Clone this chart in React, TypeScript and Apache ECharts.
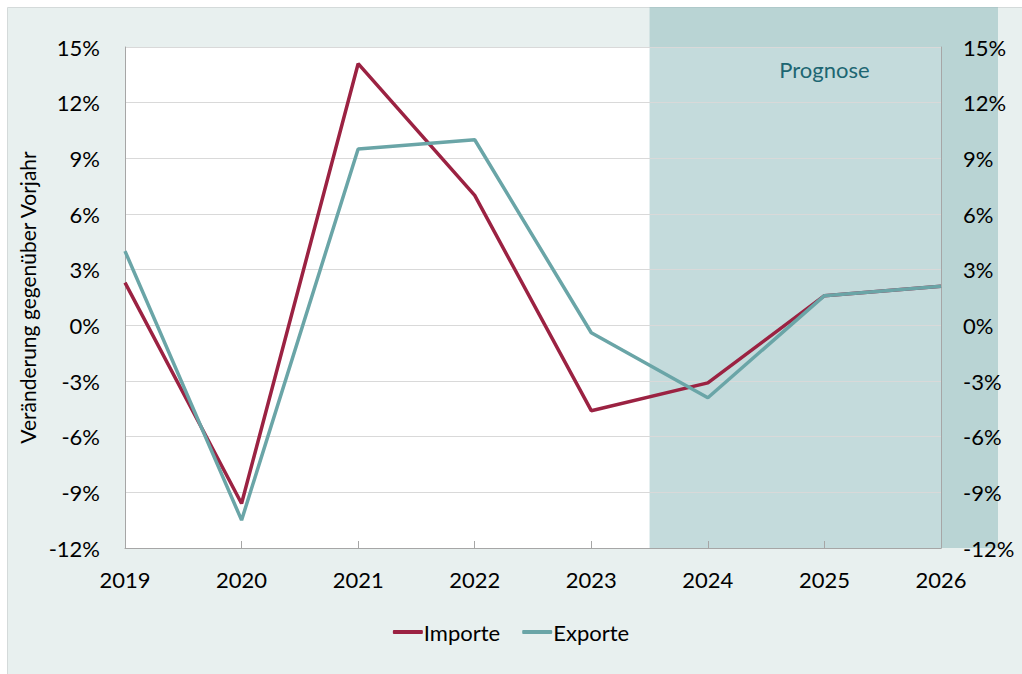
import React, { useEffect, useRef } from "react";
import * as echarts from "echarts";

const years = ["2019", "2020", "2021", "2022", "2023", "2024", "2025", "2026"];
const importe = [2.3, -9.6, 14.1, 7.0, -4.6, -3.1, 1.6, 2.1];
const exporte = [4.0, -10.5, 9.5, 10.0, -0.4, -3.9, 1.6, 2.1];
const forecastFrom = "2023";
const forecastTo = "2024";
const forecastLabel = "Prognose";

const FONT = "Lato";
const FS = 22;

export default function App() {
  const ref = useRef<HTMLDivElement>(null);
  useEffect(() => {
    const chart = echarts.init(ref.current!, null, { renderer: "svg" });
    const yAxisBase = {
      type: "value" as const,
      min: -12,
      max: 15,
      interval: 3,
      z: 5,
      axisLine: { show: true, lineStyle: { color: "#a6a6a6", width: 1 } },
      axisTick: { show: false },
      splitLine: { show: true, lineStyle: { color: "#d9d9d9", width: 1 } },
      axisLabel: {
        formatter: "{value}%",
        fontFamily: FONT,
        fontSize: FS,
        color: "#000",
      },
    };
    chart.setOption({
      animation: false,
      backgroundColor: "#ffffff",
      textStyle: { fontFamily: FONT },
      grid: {
        left: 125,
        right: 81,
        top: 47,
        bottom: 126,
        show: true,
        backgroundColor: "#ffffff",
        borderWidth: 0,
      },
      legend: {
        bottom: 26,
        left: "center",
        icon: "roundRect",
        itemWidth: 30,
        itemHeight: 4,
        itemGap: 22,
        textStyle: { fontFamily: FONT, fontSize: FS, color: "#000", padding: [0, 0, 0, -4] },
        data: ["Importe", "Exporte"],
      },
      xAxis: {
        type: "category",
        data: years,
        boundaryGap: false,
        z: 5,
        axisLine: { show: true, onZero: false, lineStyle: { color: "#a6a6a6", width: 1 } },
        axisTick: { show: true, inside: true, length: 7, lineStyle: { color: "#a6a6a6" } },
        axisLabel: { fontFamily: FONT, fontSize: FS, color: "#000", margin: 20 },
        splitLine: { show: false },
      },
      yAxis: [
        {
          ...yAxisBase,
          position: "left",
          axisLabel: { ...yAxisBase.axisLabel, margin: 25 },
          name: "Veränderung gegenüber Vorjahr",
          nameLocation: "middle",
          nameGap: 79,
          nameRotate: 90,
          nameTextStyle: { fontFamily: FONT, fontSize: 21, color: "#000" },
        },
        {
          ...yAxisBase,
          position: "right",
          splitLine: { show: false },
          axisLabel: { ...yAxisBase.axisLabel, margin: 22 },
        },
      ],
      series: [
        {
          name: "Importe",
          type: "line",
          data: importe,
          symbol: "none",
          lineStyle: { color: "#9b2242", width: 3.5 },
          itemStyle: { color: "#9b2242" },
          z: 6,
        },
        {
          name: "Exporte",
          type: "line",
          data: exporte,
          symbol: "none",
          lineStyle: { color: "#6aa5a7", width: 3.5 },
          itemStyle: { color: "#6aa5a7" },
          z: 7,
        },
      ],
    });

    const xa = chart.convertToPixel({ xAxisIndex: 0 }, forecastFrom) as number;
    const xb = chart.convertToPixel({ xAxisIndex: 0 }, forecastTo) as number;
    const xStart = (xa + xb) / 2;
    const yBottom = chart.convertToPixel({ yAxisIndex: 0 }, -12) as number;
    const x2025 = chart.convertToPixel({ xAxisIndex: 0 }, "2025") as number;

    chart.setOption({
      graphic: [
        {
          type: "rect",
          z: -100,
          silent: true,
          shape: { x: 7.5, y: 7.5, width: 1020, height: 670 },
          style: { fill: "#e8f0ef", stroke: "#d4dada", lineWidth: 1 },
        },
        {
          type: "rect",
          z: 1,
          silent: true,
          shape: { x: xStart, y: 7, width: 998 - xStart, height: yBottom - 7 },
          style: { fill: "rgba(138,184,186,0.5)" },
        },
        {
          type: "text",
          z: 8,
          silent: true,
          x: x2025,
          y: 69,
          style: {
            text: forecastLabel,
            fontFamily: FONT,
            fontSize: FS,
            fill: "#1d6672",
            align: "center",
            verticalAlign: "middle",
          },
        },
      ],
    });

    return () => chart.dispose();
  }, []);
  return (
    <div
      ref={ref}
      style={{ position: "absolute", left: 0, top: 0, width: 1022, height: 674 }}
    />
  );
}
